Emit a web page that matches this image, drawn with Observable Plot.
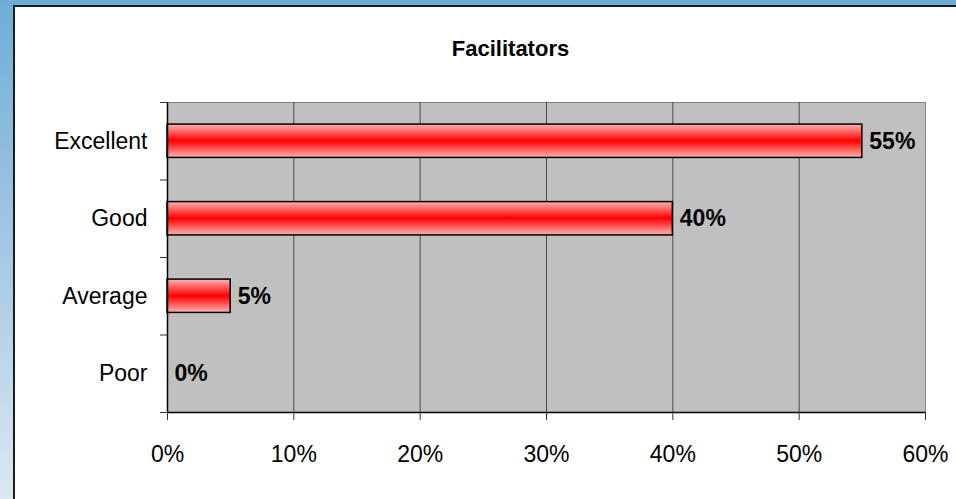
<!DOCTYPE html>
<html>
<head>
<meta charset="utf-8">
<script src="https://cdn.jsdelivr.net/npm/d3@7"></script>
<script src="https://cdn.jsdelivr.net/npm/@observablehq/plot@0.6"></script>
<style>
  html, body { margin: 0; padding: 0; }
  #wrap { position: relative; width: 956px; height: 499px; overflow: hidden;
    background: linear-gradient(to bottom, #6eaed6 0%, #a4c8e4 50%, #dbe8f3 100%); }
  #card { position: absolute; left: 13px; top: 5px; width: 1000px; height: 520px;
    background: #fff; border-left: 2px solid #1c1c1c; border-top: 2px solid #1c1c1c; }
  #chart { position: absolute; left: 0; top: 0; }
  svg text { font-family: "Liberation Sans", Arial, sans-serif; }
</style>
</head>
<body>
<div id="wrap"><div id="card"></div><div id="chart"></div></div>
<script>
const title = "Facilitators";
const categories = ["Excellent", "Good", "Average", "Poor"];
const values = [0.55, 0.40, 0.05, 0.00];
const xTicks = [0, 0.1, 0.2, 0.3, 0.4, 0.5, 0.6];
const gridTicks = [0.1, 0.2, 0.3, 0.4, 0.5];

const data = categories.map((c, i) => ({cat: c, value: values[i], pos: i + 0.5}));
const half = 0.215;

const plot = Plot.plot({
  width: 956,
  height: 499,
  marginLeft: 167,
  marginRight: 31,
  marginTop: 102,
  marginBottom: 87,
  style: {background: "transparent", fontFamily: "Liberation Sans, Arial, sans-serif", fontSize: "23px", color: "#000"},
  x: {domain: [0, 0.6], label: null},
  y: {domain: [0, categories.length], reverse: true, label: null},
  marks: [
    Plot.frame({fill: "#c0c0c0", stroke: "#808080"}),
    Plot.ruleX(gridTicks, {stroke: "#4a4a4a", strokeWidth: 1}),
    Plot.rectX(data.filter(d => d.value > 0), {x1: 0, x2: "value", y1: d => d.pos - half, y2: d => d.pos + half,
      fill: "url(#barGrad)", stroke: "#000", strokeWidth: 1.5}),
    Plot.ruleX([0], {stroke: "#000", strokeWidth: 1.5}),
    Plot.ruleY([categories.length], {stroke: "#000", strokeWidth: 1.5}),
    Plot.axisX({ticks: xTicks, tickFormat: d => Math.round(d * 100) + "%", tickSize: 8,
      tickPadding: 25, fontSize: 23, stroke: "#333", label: null}),
    Plot.axisY({ticks: d3.range(0, categories.length + 1), tickFormat: () => "", tickSize: 7, stroke: "#333", label: null}),
    Plot.axisY({ticks: data.map(d => d.pos), tickFormat: (d, i) => categories[i], tickSize: 0,
      tickPadding: 20, fontSize: 23, label: null}),
    Plot.text(data, {x: "value", y: "pos", text: d => Math.round(d.value * 100) + "%",
      textAnchor: "start", dx: 7, fontWeight: "bold", fontSize: 23, fill: "#000"}),
    Plot.text([title], {frameAnchor: "top", dx: -36, dy: -62, fontWeight: "bold", fontSize: 22, fill: "#000"})
  ]
});

const ns = "http://www.w3.org/2000/svg";
const defs = document.createElementNS(ns, "defs");
const grad = document.createElementNS(ns, "linearGradient");
grad.setAttribute("id", "barGrad");
grad.setAttribute("x1", "0"); grad.setAttribute("y1", "0");
grad.setAttribute("x2", "0"); grad.setAttribute("y2", "1");
[["0%", "#ffb3b3"], ["50%", "#ff0000"], ["100%", "#ffb3b3"]].forEach(([o, c]) => {
  const s = document.createElementNS(ns, "stop");
  s.setAttribute("offset", o); s.setAttribute("stop-color", c);
  grad.appendChild(s);
});
defs.appendChild(grad);
plot.insertBefore(defs, plot.firstChild);
document.getElementById("chart").appendChild(plot);
</script>
</body>
</html>
